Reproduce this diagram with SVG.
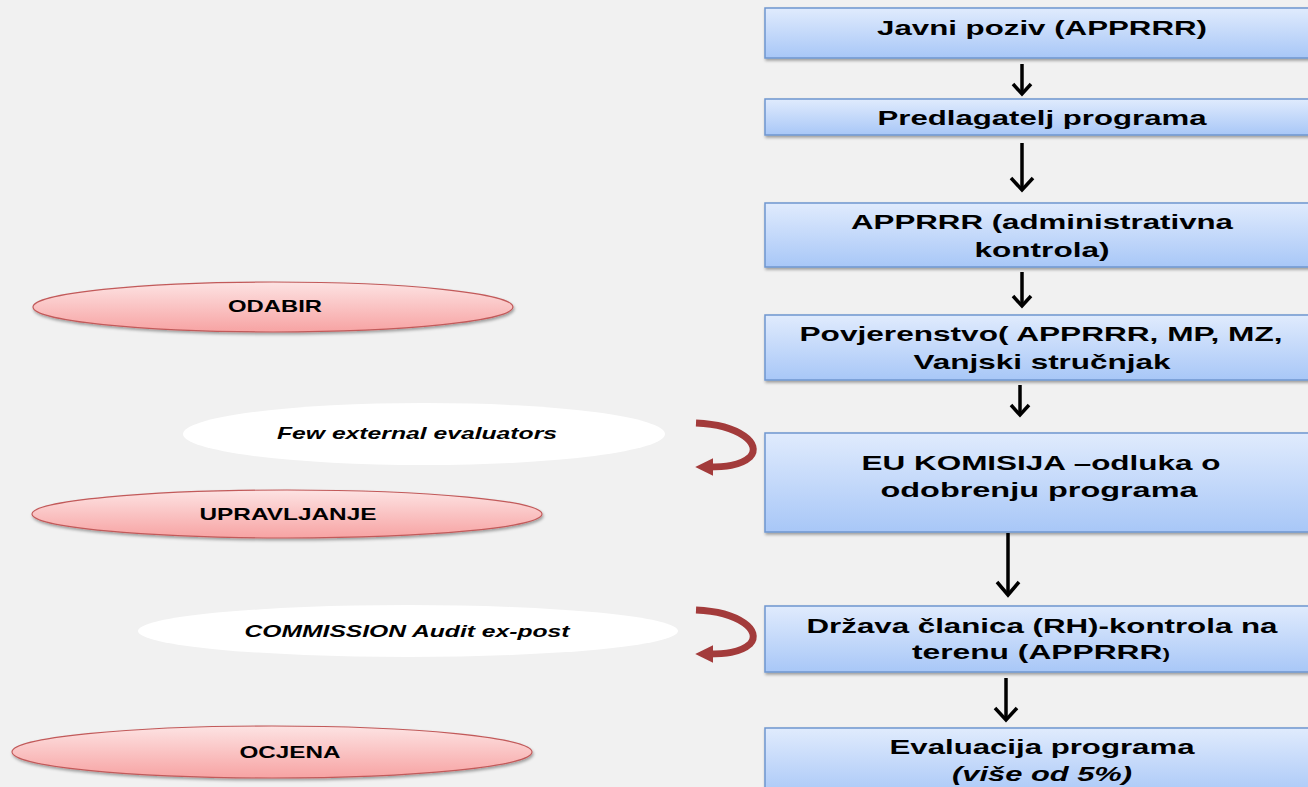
<svg xmlns="http://www.w3.org/2000/svg" width="1308" height="787" viewBox="0 0 1308 787">
<defs>
<linearGradient id="gb" x1="0" y1="0" x2="0" y2="1">
<stop offset="0" stop-color="#e0ebfd"/>
<stop offset="1" stop-color="#a8c7f7"/>
</linearGradient>
<linearGradient id="gp" x1="0" y1="0" x2="0" y2="1">
<stop offset="0" stop-color="#fde3e3"/>
<stop offset="1" stop-color="#f7a3a3"/>
</linearGradient>
<filter id="sh" x="-5%" y="-20%" width="110%" height="150%">
<feDropShadow dx="1" dy="2" stdDeviation="1.5" flood-color="#000" flood-opacity="0.35"/>
</filter>
<marker id="rh" viewBox="0 0 10 10" refX="3" refY="5" markerWidth="2.6" markerHeight="3" orient="auto">
<path d="M0,0 L10,5 L0,10 Z" fill="#a33b3b"/>
</marker>
<style>
.box{fill:url(#gb);stroke:#6f96cf;stroke-width:1.5;filter:url(#sh)}
.ell{fill:url(#gp);stroke:#c25a5a;stroke-width:1.2;filter:url(#sh)}
.wel{fill:#ffffff}
.bt{font-family:"Liberation Sans",Arial,sans-serif;font-weight:bold;font-size:21px;fill:#000;text-anchor:middle}
.et{font-family:"Liberation Sans",Arial,sans-serif;font-weight:bold;font-size:17px;fill:#000;text-anchor:middle}
.it{font-style:italic}
.arr{stroke:#000;stroke-width:3.5;fill:none}
.red{stroke:#a33b3b;stroke-width:7;fill:none;stroke-linecap:butt}
</style>
</defs>
<rect width="1308" height="787" fill="#f1f1f1"/>

<g id="connectors">
<line class="arr" x1="1022" y1="64" x2="1022" y2="93"/>
<path class="arr" d="M1013,84 L1022,94 L1031,84"/>
<line class="arr" x1="1022" y1="143" x2="1022" y2="189"/>
<path class="arr" d="M1011,178 L1022,190 L1033,178"/>
<line class="arr" x1="1022" y1="272" x2="1022" y2="305"/>
<path class="arr" d="M1013,296 L1022,306 L1031,296"/>
<line class="arr" x1="1020" y1="385" x2="1020" y2="414"/>
<path class="arr" d="M1011,405 L1020,415 L1029,405"/>
<line class="arr" x1="1008" y1="533" x2="1008" y2="594"/>
<path class="arr" d="M997,582 L1008,595 L1019,582"/>
<line class="arr" x1="1006" y1="678" x2="1006" y2="719"/>
<path class="arr" d="M995,708 L1006,720 L1017,708"/>
<path class="red" d="M696,423 C740,425 762,444 750,457 C740,466 724,467 708,467" marker-end="url(#rh)"/>
<path class="red" d="M696,610 C740,612 762,631 750,644 C740,653 724,654 708,654" marker-end="url(#rh)"/>
</g>

<g id="n1"><rect class="box" x="765" y="8" width="560" height="50"/><text class="bt" x="1042" y="35" textLength="330" lengthAdjust="spacingAndGlyphs">Javni poziv (APPRRR)</text></g>
<g id="n2"><rect class="box" x="765" y="99" width="560" height="36"/><text class="bt" x="1042" y="125" textLength="329" lengthAdjust="spacingAndGlyphs">Predlagatelj programa</text></g>
<g id="n3"><rect class="box" x="765" y="203" width="560" height="64"/><text class="bt" x="1042" y="229" textLength="382" lengthAdjust="spacingAndGlyphs">APPRRR (administrativna</text><text class="bt" x="1042" y="257" textLength="135" lengthAdjust="spacingAndGlyphs">kontrola)</text></g>
<g id="n4"><rect class="box" x="765" y="315" width="560" height="65"/><text class="bt" x="1041" y="341" textLength="483" lengthAdjust="spacingAndGlyphs">Povjerenstvo( APPRRR, MP, MZ,</text><text class="bt" x="1042" y="369" textLength="257" lengthAdjust="spacingAndGlyphs">Vanjski stručnjak</text></g>
<g id="n5"><rect class="box" x="765" y="433" width="560" height="99"/><text class="bt" x="1041" y="470" textLength="359" lengthAdjust="spacingAndGlyphs">EU KOMISIJA –odluka o</text><text class="bt" x="1039" y="497" textLength="317" lengthAdjust="spacingAndGlyphs">odobrenju programa</text></g>
<g id="n6"><rect class="box" x="765" y="606" width="560" height="66"/><text class="bt" x="1042" y="633" textLength="471" lengthAdjust="spacingAndGlyphs">Država članica (RH)-kontrola na</text><text class="bt" x="1041" y="659" textLength="258" lengthAdjust="spacingAndGlyphs">terenu (APPRRR<tspan font-size="15">)</tspan></text></g>
<g id="n7"><rect class="box" x="765" y="728" width="560" height="70"/><text class="bt" x="1042" y="754" textLength="305" lengthAdjust="spacingAndGlyphs">Evaluacija programa</text><text class="bt it" x="1042" y="781" textLength="180" lengthAdjust="spacingAndGlyphs">(više od 5%)</text></g>

<g id="e1"><ellipse class="ell" cx="273" cy="307" rx="240" ry="25"/><text class="et" x="275" y="312" textLength="94" lengthAdjust="spacingAndGlyphs">ODABIR</text></g>
<g id="e2"><ellipse class="wel" cx="424" cy="434" rx="241" ry="31"/><text class="et it" x="417" y="439" textLength="280" lengthAdjust="spacingAndGlyphs">Few external evaluators</text></g>
<g id="e3"><ellipse class="ell" cx="287" cy="514" rx="255" ry="24"/><text class="et" x="288" y="520" textLength="177" lengthAdjust="spacingAndGlyphs">UPRAVLJANJE</text></g>
<g id="e4"><ellipse class="wel" cx="408" cy="631" rx="270" ry="26"/><text class="et it" x="407" y="637" textLength="325" lengthAdjust="spacingAndGlyphs">COMMISSION Audit ex-post</text></g>
<g id="e5"><ellipse class="ell" cx="272" cy="752" rx="260" ry="26"/><text class="et" x="290" y="758" textLength="101" lengthAdjust="spacingAndGlyphs">OCJENA</text></g>
</svg>
